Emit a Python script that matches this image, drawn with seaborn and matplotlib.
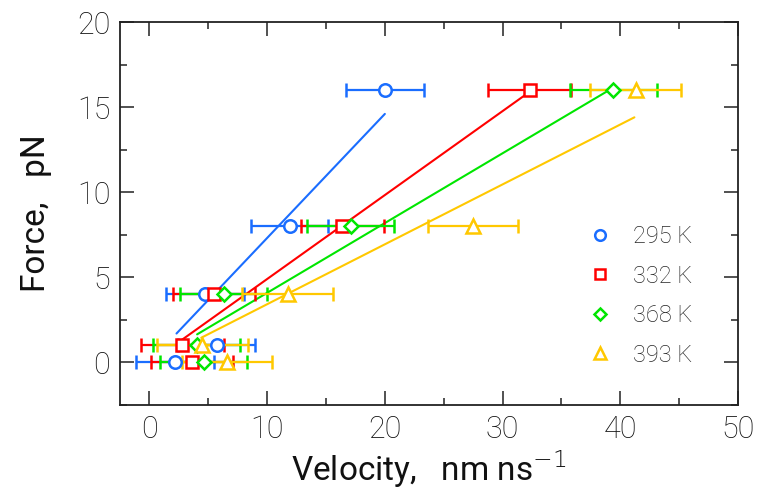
import matplotlib
matplotlib.use('Agg')
import matplotlib.pyplot as plt
from matplotlib.lines import Line2D
from matplotlib.ticker import MultipleLocator
import numpy as np
import pandas as pd
import seaborn as sns

temps = ['295 K', '332 K', '368 K', '393 K']
force = [0, 1, 4, 8, 16]

# velocity means per temperature, same order as force
vel_295 = [2.2, 5.7, 4.7, 11.9, 20.0]
vel_332 = [3.6, 2.8, 5.5, 16.4, 32.3]
vel_368 = [4.6, 4.0, 6.3, 17.1, 39.4]
vel_393 = [6.6, 4.5, 11.75, 27.5, 41.3]
err_295 = [3.3, 3.3, 3.3, 3.3, 3.3]
err_332 = [3.5, 3.5, 3.5, 3.5, 3.5]
err_368 = [3.7, 3.7, 3.7, 3.7, 3.7]
err_393 = [3.85, 3.85, 3.85, 3.85, 3.85]

# fitted lines (start / end points)
fit_x_295 = [2.3, 20.0]
fit_y_295 = [1.7, 14.6]
fit_x_332 = [2.7, 32.3]
fit_y_332 = [1.3, 15.9]
fit_x_368 = [4.05, 39.3]
fit_y_368 = [1.65, 16.1]
fit_x_393 = [4.4, 41.2]
fit_y_393 = [1.45, 14.4]

colors = ['#1a6dff', '#ff0000', '#00e600', '#ffc800']
markers = ['o', 's', 'D', '^']
msizes = [9, 8, 7, 9.5]

vels = [vel_295, vel_332, vel_368, vel_393]
errs = [err_295, err_332, err_368, err_393]
fits_x = [fit_x_295, fit_x_332, fit_x_368, fit_x_393]
fits_y = [fit_y_295, fit_y_332, fit_y_368, fit_y_393]

sns.set_theme(style='ticks')
plt.rcParams['font.family'] = ['Roboto', 'DejaVu Sans']
plt.rcParams['font.weight'] = 'light'

fig = plt.figure(figsize=(7.58, 4.93), dpi=100)
ax = fig.add_axes([120/758, 1-405/493, 618/758, 383/493])

for i, t in enumerate(temps):
    fit_df = pd.DataFrame({'x': fits_x[i], 'y': fits_y[i]})
    sns.lineplot(data=fit_df, x='x', y='y', color=colors[i], linewidth=1.5, ax=ax)
for i, t in enumerate(temps):
    ax.errorbar(vels[i], force, xerr=errs[i], fmt=markers[i], color=colors[i],
                markersize=msizes[i], markerfacecolor='white', markeredgewidth=1.8,
                elinewidth=1.6, capsize=5, capthick=1.6, linestyle='none')

ax.set_xlim(-2.5, 50)
ax.set_ylim(-2.5, 20)
ax.xaxis.set_major_locator(MultipleLocator(10))
ax.xaxis.set_minor_locator(MultipleLocator(5))
ax.yaxis.set_major_locator(MultipleLocator(5))
ax.yaxis.set_minor_locator(MultipleLocator(2.5))
ax.tick_params(which='both', direction='in', top=True, right=True, width=1.1, color='#222222')
ax.tick_params(which='major', length=10, labelsize=22, pad=7, labelcolor='#111111')
ax.tick_params(which='minor', length=5)
for s in ax.spines.values():
    s.set_linewidth(1.3)
    s.set_color('#222222')

ax.set_xlabel('Velocity,   nm ns$^{-1}$', fontsize=24, labelpad=3, color='#111111')
ax.set_ylabel('Force,   pN', fontsize=24, labelpad=18, color='#111111')

handles = [Line2D([], [], marker=markers[i], color=colors[i], linestyle='none',
                  markersize=msizes[i] * 0.85, markerfacecolor='white', markeredgewidth=1.8)
           for i in range(len(temps))]
ax.legend(handles, temps, loc='upper left', bbox_to_anchor=(0.72, 0.525), frameon=False,
          fontsize=17, labelspacing=0.7, handletextpad=0.8, handlelength=1.2)

fig.savefig('out.png', dpi=100)
